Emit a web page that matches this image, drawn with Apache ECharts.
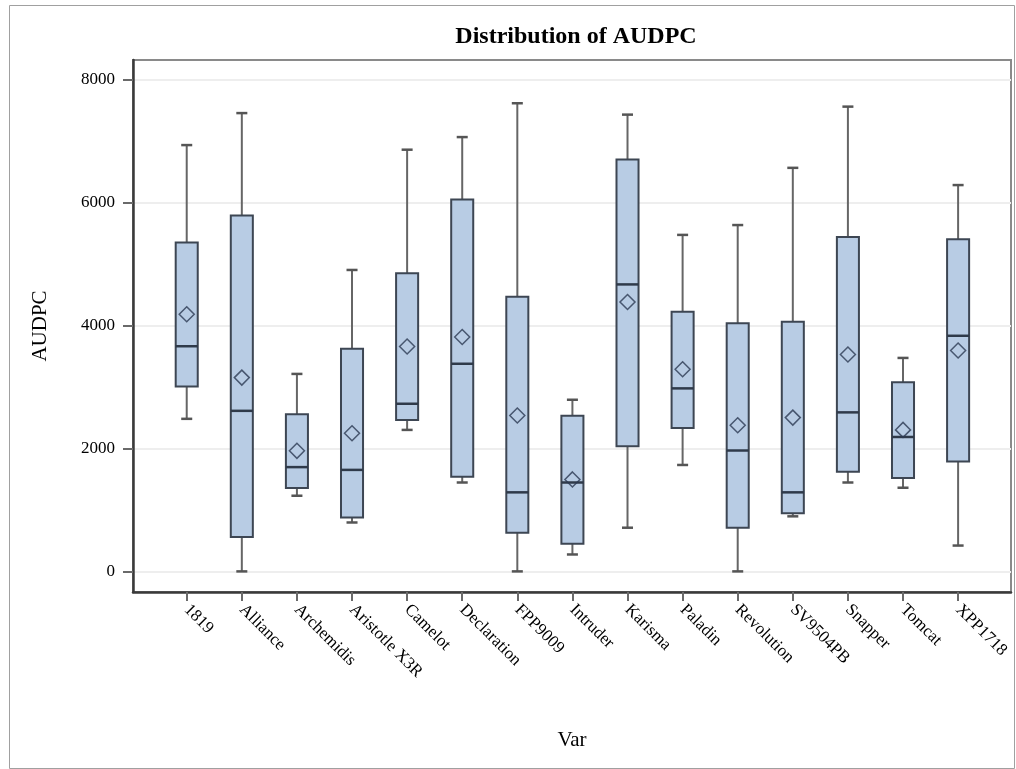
<!DOCTYPE html>
<html>
<head>
<meta charset="utf-8">
<script src="https://cdn.jsdelivr.net/npm/echarts@6/dist/echarts.min.js"></script>
<style>
html,body{margin:0;padding:0;background:#fff;}
#chart{width:1016px;height:769px;}
</style>
</head>
<body>
<div id="chart"></div>
<script>
const categories = ['1819','Alliance','Archemidis','Aristotle X3R','Camelot','Declaration','FPP9009','Intruder','Karisma','Paladin','Revolution','SV9504PB','Snapper','Tomcat','XPP1718'];
const whiskerLow  = [2480, 0,    1230, 795,  2300, 1445, 0,    275,  710,  1730, 0,    895,  1445, 1360, 420];
const q1          = [3005, 560,  1355, 875,  2460, 1540, 630,  450,  2035, 2330, 710,  945,  1620, 1520, 1785];
const median      = [3660, 2610, 1695, 1650, 2725, 3375, 1285, 1445, 4665, 2975, 1965, 1285, 2585, 2185, 3830];
const q3          = [5345, 5785, 2555, 3620, 4845, 6045, 4465, 2530, 6695, 4220, 4035, 4060, 5435, 3075, 5400];
const whiskerHigh = [6930, 7450, 3210, 4900, 6855, 7060, 7610, 2790, 7425, 5470, 5630, 6560, 7555, 3470, 6280];
const mean        = [4180, 3150, 1960, 2245, 3655, 3810, 2535, 1495, 4380, 3285, 2375, 2500, 3525, 2300, 3590];
const yTicks = [0, 2000, 4000, 6000, 8000];

const catIdx = categories.map((c, i) => i);
const boxData = categories.map((c, i) => [i, whiskerLow[i], q1[i], median[i], q3[i], whiskerHigh[i]]);
const meanData = categories.map((c, i) => [i, mean[i]]);

const FONT = 'Liberation Serif';
const chart = echarts.init(document.getElementById('chart'), null, {renderer: 'canvas'});

function renderBox(params, api) {
  const x = api.value(0);
  const pLow = api.coord([x, api.value(1)]);
  const pQ1 = api.coord([x, api.value(2)]);
  const pMed = api.coord([x, api.value(3)]);
  const pQ3 = api.coord([x, api.value(4)]);
  const pHigh = api.coord([x, api.value(5)]);
  const unit = api.size([1, 0])[0];
  const bw = unit * 0.4;
  const cw = unit * 0.2;
  const cx = pMed[0];
  const whiskerStyle = {stroke: '#666666', lineWidth: 2};
  return {
    type: 'group',
    children: [
      {type: 'line', shape: {x1: cx, y1: pLow[1], x2: cx, y2: pQ1[1]}, style: whiskerStyle},
      {type: 'line', shape: {x1: cx, y1: pQ3[1], x2: cx, y2: pHigh[1]}, style: whiskerStyle},
      {type: 'line', shape: {x1: cx - cw / 2, y1: pLow[1], x2: cx + cw / 2, y2: pLow[1]}, style: {stroke: '#555555', lineWidth: 2.5}},
      {type: 'line', shape: {x1: cx - cw / 2, y1: pHigh[1], x2: cx + cw / 2, y2: pHigh[1]}, style: {stroke: '#555555', lineWidth: 2.5}},
      {type: 'rect', shape: {x: cx - bw / 2, y: pQ3[1], width: bw, height: pQ1[1] - pQ3[1]},
        style: {fill: '#b8cce4', stroke: '#3d4653', lineWidth: 2}},
      {type: 'line', shape: {x1: cx - bw / 2, y1: pMed[1], x2: cx + bw / 2, y2: pMed[1]}, style: {stroke: '#2f3a4a', lineWidth: 2.5}}
    ]
  };
}

const option = {
  backgroundColor: '#ffffff',
  animation: false,
  title: {
    text: 'Distribution of AUDPC',
    left: 571, top: 20, textAlign: 'center',
    textStyle: {fontFamily: FONT, fontWeight: 'bold', fontSize: 24, color: '#000'}
  },
  graphic: [
    {type: 'rect', left: 7, top: 3, shape: {width: 1005, height: 763}, style: {fill: 'none', stroke: '#a0a0a0', lineWidth: 1}, z: -10}
  ],
  grid: {left: 133, right: 5, top: 60, bottom: 177, show: true, borderColor: '#8a8a8a', borderWidth: 2, backgroundColor: 'transparent'},
  xAxis: {
    type: 'value', min: -0.975, max: 14.96,
    name: 'Var', nameLocation: 'middle', nameGap: 138,
    nameTextStyle: {fontFamily: FONT, fontSize: 21, color: '#000'},
    axisLine: {show: true, onZero: false, lineStyle: {color: '#3a3a3a', width: 2.5}},
    axisTick: {show: true, length: 9, customValues: catIdx, lineStyle: {color: '#6a6a6a', width: 2}},
    axisLabel: {customValues: catIdx, rotate: -45, margin: 15, formatter: v => categories[Math.round(v)],
      fontFamily: FONT, fontSize: 17, color: '#000'},
    splitLine: {show: false}
  },
  yAxis: {
    type: 'value', min: -335, max: 8313,
    name: 'AUDPC', nameLocation: 'middle', nameGap: 82, nameRotate: 90,
    nameTextStyle: {fontFamily: FONT, fontSize: 21, color: '#000'},
    axisLine: {show: true, onZero: false, lineStyle: {color: '#3a3a3a', width: 2.5}},
    axisTick: {show: true, length: 10, customValues: yTicks, lineStyle: {color: '#6a6a6a', width: 2}},
    axisLabel: {customValues: yTicks, margin: 18, formatter: v => String(v), fontFamily: FONT, fontSize: 17, color: '#000'},
    splitLine: {show: true, lineStyle: {color: '#eeeeee', width: 2}}
  },
  series: [
    {
      type: 'custom',
      renderItem: renderBox,
      data: boxData,
      encode: {x: 0, y: [1, 2, 3, 4, 5]},
      z: 2
    },
    {
      type: 'scatter',
      data: meanData,
      symbol: 'diamond',
      symbolSize: [15, 15],
      itemStyle: {color: 'rgba(0,0,0,0)', borderColor: '#2c3a52', borderWidth: 1.5},
      z: 3
    }
  ]
};
chart.setOption(option);
</script>
</body>
</html>
